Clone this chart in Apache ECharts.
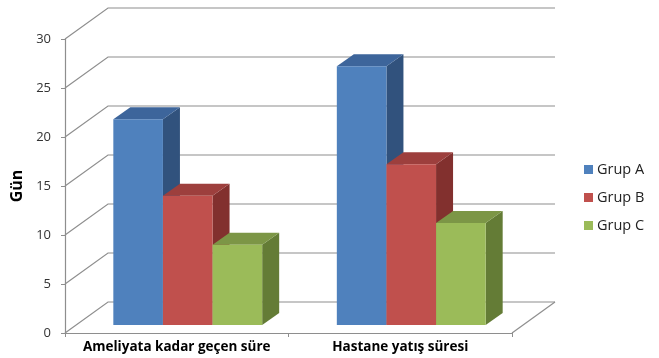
<!DOCTYPE html>
<html>
<head>
<meta charset="utf-8">
<script src="https://cdn.jsdelivr.net/npm/echarts@6/dist/echarts.min.js"></script>
<style>
html, body { margin: 0; padding: 0; background: #fff; }
#chart { width: 659px; height: 358px; }
</style>
</head>
<body>
<div id="chart"></div>
<script>
var myChart = echarts.init(document.getElementById('chart'));

// data
var categories = ['Ameliyata kadar geçen süre', 'Hastane yatış süresi'];
var seriesNames = ['Grup A', 'Grup B', 'Grup C'];
var grupA = [21, 26.4];
var grupB = [13.2, 16.4];
var grupC = [8.2, 10.4];
var yTicks = [0, 5, 10, 15, 20, 25, 30];

// colours: front / top / side
var colors = [
    { front: '#4f81bd', top: '#3d659b', side: '#31527d' },
    { front: '#c0504d', top: '#9d3f3d', side: '#82302e' },
    { front: '#9bbb59', top: '#7c9646', side: '#647c36' }
];
var gridColor = '#8e8e8e';
var fontName = 'Open Sans';

// 3d offsets (px)
var wallDX = 43, wallDY = -31;   // depth of the whole box
var barFX = 11, barFY = -8;      // bars sit a bit behind the front plane
var barDX = 17, barDY = -12;     // depth of a bar

function wallItem(params, api) {
    var v = api.value(0);
    var catW = api.size([1, 0])[0];
    var pl = api.coord([0, v]);
    var pr = api.coord([categories.length - 1, v]);
    var x0 = pl[0] - catW / 2;
    var x1 = pr[0] + catW / 2;
    var y = pl[1];
    var children = [{
        type: 'polyline',
        shape: { points: [[x0, y], [x0 + wallDX, y + wallDY], [x1 + wallDX, y + wallDY]] },
        style: { stroke: gridColor, lineWidth: 1.2, fill: null }
    }];
    if (v === 0) {
        children.push({
            type: 'line',
            shape: { x1: x1, y1: y, x2: x1 + wallDX, y2: y + wallDY },
            style: { stroke: gridColor, lineWidth: 1.2 }
        });
    }
    return { type: 'group', children: children };
}

function barRenderer(idx) {
    return function (params, api) {
        var cat = api.value(0);
        var p0 = api.coord([cat, 0]);
        var p1 = api.coord([cat, api.value(1)]);
        var catW = api.size([1, 0])[0];
        var bw = catW * 0.222;
        var xl = p0[0] - 1.5 * bw + idx * bw + barFX;
        var xr = xl + bw;
        var yb = p0[1] + barFY;
        var yt = p1[1] + barFY;
        var c = colors[idx];
        return {
            type: 'group',
            children: [{
                type: 'polygon',
                shape: { points: [[xr, yt], [xr + barDX, yt + barDY], [xr + barDX, yb + barDY], [xr, yb]] },
                style: { fill: c.side }
            }, {
                type: 'polygon',
                shape: { points: [[xl, yt], [xr, yt], [xr + barDX, yt + barDY], [xl + barDX, yt + barDY]] },
                style: { fill: c.top }
            }, {
                type: 'rect',
                shape: { x: xl, y: yt, width: bw, height: yb - yt },
                style: { fill: c.front }
            }]
        };
    };
}

var allData = [grupA, grupB, grupC];
var series = [{
    type: 'custom',
    name: 'wall',
    renderItem: wallItem,
    data: yTicks.map(function (v) { return [v]; }),
    encode: { y: 0 },
    clip: false,
    silent: true,
    z: 1
}];
allData.forEach(function (arr, i) {
    series.push({
        type: 'custom',
        name: seriesNames[i],
        renderItem: barRenderer(i),
        itemStyle: { color: colors[i].front },
        data: arr.map(function (v, j) { return [j, v]; }),
        encode: { x: 0, y: 1 },
        clip: false,
        z: 2 + i
    });
});

var option = {
    backgroundColor: '#ffffff',
    animation: false,
    legend: {
        data: seriesNames,
        orient: 'vertical',
        left: 579,
        top: 157,
        icon: 'rect',
        itemWidth: 9,
        itemHeight: 9,
        itemGap: 13,
        textStyle: { fontFamily: fontName, fontSize: 14.5, color: '#222', padding: [0, 0, 0, -1] }
    },
    grid: {
        left: 65,
        right: 147,
        top: 39,
        bottom: 25
    },
    xAxis: {
        type: 'category',
        data: categories,
        axisLine: { show: true, lineStyle: { color: gridColor, width: 1.2 } },
        axisTick: { show: true, length: 4, lineStyle: { color: gridColor } },
        axisLabel: {
            interval: 0,
            margin: 7,
            color: '#000',
            fontFamily: fontName,
            fontWeight: 'bold',
            fontSize: 13.5
        },
        splitLine: { show: false }
    },
    yAxis: {
        type: 'value',
        min: 0,
        max: 30,
        interval: 5,
        name: 'Gün',
        nameLocation: 'middle',
        nameGap: 38,
        nameTextStyle: { fontFamily: fontName, fontWeight: 'bold', fontSize: 16, color: '#000' },
        axisLine: { show: true, lineStyle: { color: gridColor, width: 1.2 } },
        axisTick: { show: true, length: 4, lineStyle: { color: gridColor } },
        axisLabel: { margin: 14, color: '#333', fontFamily: fontName, fontSize: 13 },
        splitLine: { show: false }
    },
    series: series
};

myChart.setOption(option);
</script>
</body>
</html>
